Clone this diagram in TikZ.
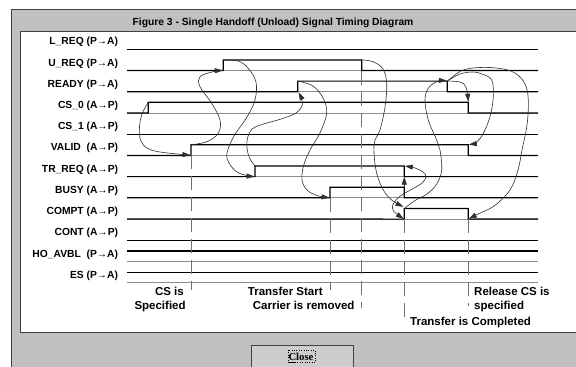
\documentclass[tikz,border=0pt]{standalone}
\usepackage{fontspec}
\setmainfont{Liberation Sans}
\newfontfamily\btnfont{Liberation Serif}
\usetikzlibrary{arrows.meta}
\definecolor{wingray}{HTML}{C0C0C0}
\definecolor{winborder}{HTML}{404040}
\definecolor{basegray}{HTML}{8C8C8C}
\definecolor{markgray}{HTML}{707070}
\definecolor{curvegray}{HTML}{303030}
\tikzset{
  lbl/.style={anchor=base east, inner sep=0pt, font=\fontsize{10.3}{12}\selectfont\bfseries},
  note/.style={inner sep=0pt, font=\fontsize{11.5}{13}\selectfont\bfseries},
  baseln/.style={draw=basegray, line width=0.7pt},
  sig/.style={draw=black, line width=1.2pt},
  marker/.style={draw=markgray, line width=0.8pt, dash pattern=on 14pt off 7pt},
  cause/.style={draw=curvegray, line width=0.6pt, -{Triangle[length=8pt,width=5pt]}},
  cause2/.style={draw=curvegray, line width=0.6pt, {Triangle[length=8pt,width=5pt]}-{Triangle[length=8pt,width=5pt]}},
}
\begin{document}
\begin{tikzpicture}[x=1pt,y=-1pt]
\useasboundingbox (0,0) rectangle (576,367);
\fill[white] (0,0) rectangle (576,367);
\fill[wingray] (11,9.5) rectangle (577,368);
\draw[winborder, line width=1pt] (11,368) -- (11,9.5) -- (577,9.5);
\fill[white] (20,31) rectangle (577,332);
\draw[winborder, line width=1pt] (577,31) -- (20,31) -- (20,332) -- (577,332);
\node[inner sep=0pt, anchor=base, font=\fontsize{10.3}{12}\selectfont\bfseries] (title) at (273,25.7) {Figure 3 - Single Handoff (Unload) Signal Timing Diagram};

% row labels and gray baselines
\foreach \i/\lab in {0/{L\_REQ (P→A)},1/{U\_REQ (P→A)},2/{READY (P→A)},3/{CS\_0 (A→P)},4/{CS\_1 (A→P)},5/{VALID\ \ (A→P)},6/{TR\_REQ (A→P)},7/{BUSY (A→P)},8/{COMPT (A→P)},9/{CONT (A→P)},10/{HO\_AVBL\ \ (P→A)},11/{ES (P→A)}}{
  \pgfmathsetmacro{\yb}{49.3+21.22*\i}
  \node[lbl] (lab\i) at (118.3,\yb-4.5) {\lab};
  \coordinate (bl\i) at (127,\yb);
  \coordinate (br\i) at (538,\yb);
  \draw[baseln] (bl\i) -- (br\i);
}

% transition coordinates (B = low level, T = high level)
\coordinate (ureqUpB) at (223.3,70.5);  \coordinate (ureqUpT) at (223.3,59.9);
\coordinate (ureqDnT) at (361.7,59.9);  \coordinate (ureqDnB) at (361.7,70.5);
\coordinate (readyUpB) at (297.7,91.7); \coordinate (readyUpT) at (297.7,81.1);
\coordinate (readyDnT) at (447.3,81.1); \coordinate (readyDnB) at (447.3,91.7);
\coordinate (cs0UpB) at (148.3,112.9);  \coordinate (cs0UpT) at (148.3,102.3);
\coordinate (cs0DnT) at (468.3,102.3);  \coordinate (cs0DnB) at (468.3,112.9);
\coordinate (validUpB) at (191,155.4);  \coordinate (validUpT) at (191,144.8);
\coordinate (validDnT) at (468.3,144.8);\coordinate (validDnB) at (468.3,155.4);
\coordinate (trUpB) at (255,176.6);     \coordinate (trUpT) at (255,166.0);
\coordinate (trDnT) at (404.3,166.0);   \coordinate (trDnB) at (404.3,176.6);
\coordinate (busyUpB) at (330,197.8);   \coordinate (busyUpT) at (330,187.2);
\coordinate (busyDnT) at (404.3,187.2); \coordinate (busyDnB) at (404.3,197.8);
\coordinate (comptUpB) at (404.3,219.1);\coordinate (comptUpT) at (404.3,208.5);
\coordinate (comptDnT) at (468.3,208.5);\coordinate (comptDnB) at (468.3,219.1);

% signal traces
\draw[sig] (bl0) -- (br0);
\draw[sig] (bl1) -- (ureqUpB) -- (ureqUpT) -- (ureqDnT) -- (ureqDnB) -- (br1);
\draw[sig] (bl2) -- (readyUpB) -- (readyUpT) -- (readyDnT) -- (readyDnB) -- (br2);
\draw[sig] (bl3) -- (cs0UpB) -- (cs0UpT) -- (cs0DnT) -- (cs0DnB) -- (br3);
\draw[sig] (bl4) -- (br4);
\draw[sig] (bl5) -- (validUpB) -- (validUpT) -- (validDnT) -- (validDnB) -- (br5);
\draw[sig] (bl6) -- (trUpB) -- (trUpT) -- (trDnT) -- (trDnB) -- (br6);
\draw[sig] (bl7) -- (busyUpB) -- (busyUpT) -- (busyDnT) -- (busyDnB) -- (br7);
\draw[sig] (bl8) -- (comptUpB) -- (comptUpT) -- (comptDnT) -- (comptDnB) -- (br8);
\draw[sig] (bl9) -- (br9);
\draw[sig] ([yshift=10.6pt]bl10) -- ([yshift=10.6pt]br10);
\draw[sig] ([yshift=10.6pt]bl11) -- ([yshift=10.6pt]br11);

% event markers
\coordinate (m1end) at (191,290);
\coordinate (m2end) at (330,290);
\coordinate (m3end) at (361.7,308);
\coordinate (m4end) at (404.3,317);
\coordinate (m5end) at (468.3,306);
\draw[marker] (validUpB) -- (m1end);
\draw[marker] (busyUpB) -- (m2end);
\draw[marker] (ureqDnB) -- (m3end);
\draw[marker] (comptUpB) -- (m4end);
\draw[marker] (comptDnB) -- (m5end);

% causality curves
\draw[cause] plot[smooth, tension=0.6] coordinates {(cs0UpT) (142,114) (139.5,127) (140.5,140) (147,148) (160,152) (190.5,155.2)};
\draw[cause] plot[smooth, tension=0.6] coordinates {(validUpT) (206.7,141.7) (218.3,133.3) (220,120) (211.7,103.3) (200,86.7) (200,76.7) (213.3,71.7) (222.8,70.4)};
\draw[cause] plot[smooth, tension=0.6] coordinates {(ureqUpT) (238,61) (248,68) (256,82) (255,100) (247,117) (234,136) (227,153) (229,163) (237,172) (247,175.5) (254.6,176.5)};
\draw[cause] plot[smooth, tension=0.6] coordinates {(trUpT) (249.5,158) (247,148) (247.5,138) (252,129) (262,124.5) (281,119) (296,113) (302.5,104) (298.5,92.3)};
\draw[cause] plot[smooth, tension=0.6] coordinates {(readyUpT) (313,86) (323,98) (326.7,113) (320,133) (310,150) (303.5,166) (302,180) (307,190) (317,195.5) (329.6,197.7)};
\draw[cause] plot[smooth, tension=0.6] coordinates {(ureqDnT) (373,61.7) (383,69) (386.7,84) (385,107) (380,130) (375,140) (374,153.3) (376.7,173.3) (383.3,190) (391.7,200) (403.5,206.8)};
\draw[cause2] plot[smooth, tension=0.6] coordinates {([xshift=0.5pt]trDnT) (415,168) (423,172) (426,177) (421.7,183.3) (411.7,189.3) (401.7,195) (396.7,199.3) (392.7,205) (393.3,210.7) (398.3,215) (403.8,218.9)};
\draw[cause] (busyDnT) -- (trDnB);
\draw[cause] plot[smooth, tension=0.6] coordinates {(comptUpT) (415,200.5) (427,194) (436.7,184) (441.7,170) (440,150) (436.7,140) (428.3,120) (425,100) (428.3,88.3) (436.7,81.7) (446.8,80.6)};
\draw[cause] plot[smooth, tension=0.6] coordinates {(readyDnT) (460,82) (466,87) (468.3,101.8)};
\draw[cause] plot[smooth, tension=0.6] coordinates {(readyDnT) (460,74) (473,72) (482,74) (491.7,80) (493.3,96.7) (490,116.7) (483.3,133.3) (476.7,142) (468.8,144.6)};
\draw[cause] plot[smooth, tension=0.6] coordinates {(readyDnT) (462,70.5) (480,67.5) (500,68.5) (515,73) (525,84) (528.3,100) (527,125) (522,150) (518,170) (510,190) (494,206) (478,214) (468.8,218.9)};

% annotations
\node[note, anchor=base east] (n1) at (184,295) {CS is};
\node[note, anchor=base west] (n2) at (134.3,309) {Specified};
\node[note, anchor=base west] (n3) at (247.7,295) {Transfer Start};
\node[note, anchor=base west] (n4) at (252.7,309) {Carrier is removed};
\node[note, anchor=base west] (n5) at (474,295) {Release CS is};
\node[note, anchor=base west] (n6) at (474,309) {specified};
\node[note, anchor=base west] (n7) at (410,325) {Transfer is Completed};

% Close button
\fill[wingray!80!white] (251,345) rectangle (353,368);
\draw[white, line width=1pt] (251.5,368) -- (251.5,345.5) -- (353,345.5);
\draw[winborder, line width=1pt] (251,345) -- (353,345) -- (353,368);
\draw[winborder, line width=0.8pt] (251,345) -- (251,368);
\node[inner sep=0pt, anchor=base, font=\fontsize{10.7}{12}\btnfont\bfseries] (close) at (301,360.5) {\underline{C}lose};
\draw[black, line width=0.4pt, dotted] (287.7,350) rectangle (315,362);
\end{tikzpicture}
\end{document}
